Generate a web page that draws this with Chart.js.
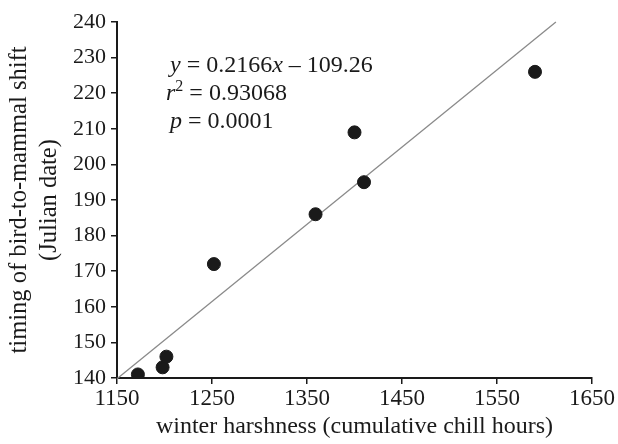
<!DOCTYPE html>
<html>
<head>
<meta charset="utf-8">
<script src="https://cdn.jsdelivr.net/npm/chart.js@4/dist/chart.umd.min.js"></script>
<style>
html,body{margin:0;padding:0;background:#fff;}
#wrap{width:618px;height:444px;}
</style>
</head>
<body>
<div id="wrap"><canvas id="c" width="618" height="444"></canvas></div>
<script>
// Data
const chillHours = [1172, 1198, 1202, 1252, 1359, 1400, 1410, 1590];
const julianDate = [141, 143, 146, 172, 186, 209, 195, 226];
// Regression line endpoints
const fitX = [1150, 1612];
const fitY = [139.8, 240];
const xTicks = [1150, 1250, 1350, 1450, 1550, 1650];
const yTicks = [140, 150, 160, 170, 180, 190, 200, 210, 220, 230, 240];
const eqLines = [
  [["y", true], [" = 0.2166", false], ["x", true], [" \u2013 109.26", false]],
  [["r", true], ["2", false, "sup"], [" = 0.93068", false]],
  [["p", true], [" = 0.0001", false]]
];

const SERIF = "'Liberation Serif','Times New Roman',serif";
const ink = '#1a1a1a';

const points = chillHours.map((x, i) => ({x: x, y: julianDate[i]}));
const fit = fitX.map((x, i) => ({x: x, y: fitY[i]}));

const annotate = {
  id: 'annotate',
  afterDatasetsDraw(chart) {
    const ctx = chart.ctx;
    const a = chart.chartArea;
    const starts = [[53, 50], [49, 78], [53, 106]];
    const size = 24;
    ctx.save();
    ctx.fillStyle = ink;
    ctx.textBaseline = 'alphabetic';
    eqLines.forEach((line, li) => {
      let x = a.left + starts[li][0];
      const y = a.top + starts[li][1];
      line.forEach(seg => {
        const [txt, ital, sup] = seg;
        const fs = sup ? Math.round(size * 0.65) : size;
        ctx.font = (ital ? 'italic ' : '') + fs + 'px ' + SERIF;
        ctx.fillText(txt, x, sup ? y - 9 : y);
        x += ctx.measureText(txt).width;
      });
    });
    ctx.restore();
  }
};

new Chart(document.getElementById('c'), {
  type: 'scatter',
  data: {
    datasets: [
      {
        type: 'line',
        data: fit,
        borderColor: '#8a8a8a',
        borderWidth: 1.3,
        pointRadius: 0,
        fill: false,
        clip: false,
        order: 2
      },
      {
        data: points,
        backgroundColor: ink,
        borderColor: ink,
        pointRadius: 6.5,
        pointHoverRadius: 6.5,
        order: 1
      }
    ]
  },
  options: {
    responsive: false,
    animation: false,
    events: [],
    layout: {padding: {left: 0, right: 26, top: 22, bottom: 0}},
    plugins: {legend: {display: false}, tooltip: {enabled: false}},
    scales: {
      x: {
        type: 'linear',
        min: 1150, max: 1650,
        afterBuildTicks: s => { s.ticks = xTicks.map(v => ({value: v})); },
        afterFit: s => { s.height = 66; },
        grid: {drawOnChartArea: false, drawTicks: true, tickLength: 6, color: ink, lineWidth: 1.5},
        border: {color: ink, width: 2},
        ticks: {color: ink, font: {family: SERIF, size: 23}, padding: 1, maxRotation: 0,
                callback: v => String(v)},
        title: {display: true, text: 'winter harshness (cumulative chill hours)', color: ink,
                font: {family: SERIF, size: 24, lineHeight: 1.2}, padding: {top: 0, bottom: 3}}
      },
      y: {
        type: 'linear',
        min: 140, max: 240,
        afterBuildTicks: s => { s.ticks = yTicks.map(v => ({value: v})); },
        afterFit: s => { s.width = 117; },
        grid: {drawOnChartArea: false, drawTicks: true, tickLength: 6, color: ink, lineWidth: 1.5},
        border: {color: ink, width: 2},
        ticks: {color: ink, font: {family: SERIF, size: 22}, padding: 5, callback: v => String(v)},
        title: {display: true, text: ['timing of bird-to-mammal shift', '(Julian date)'], color: ink,
                font: {family: SERIF, size: 24.5, lineHeight: 1.22}, padding: {top: 5, bottom: 0}}
      }
    }
  },
  plugins: [annotate]
});
</script>
</body>
</html>
